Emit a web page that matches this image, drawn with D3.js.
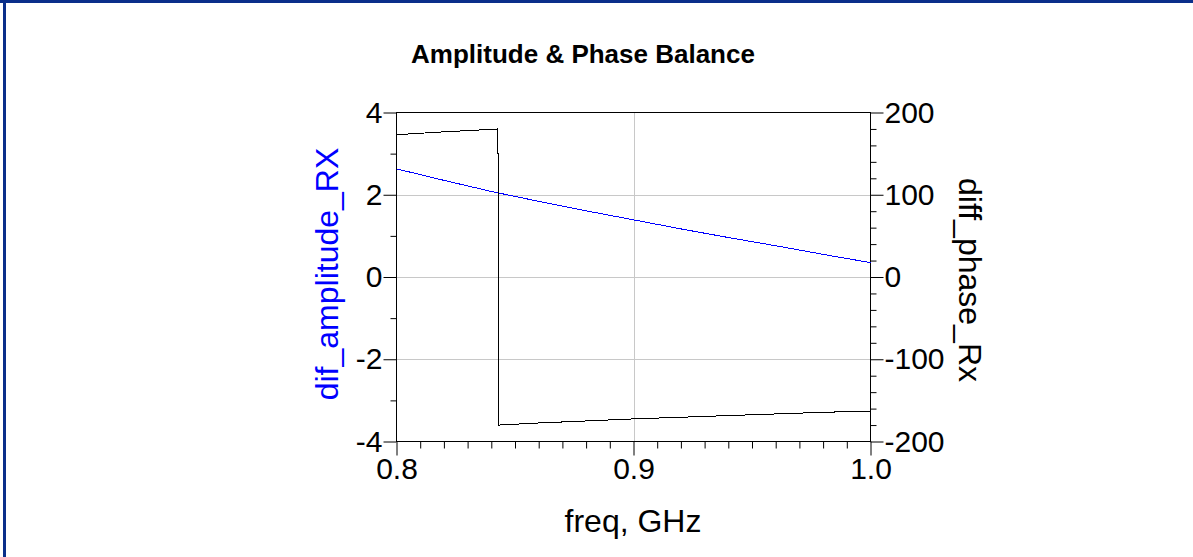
<!DOCTYPE html>
<html>
<head>
<meta charset="utf-8">
<script src="https://cdn.jsdelivr.net/npm/d3@7"></script>
<style>
  body { margin: 0; background: #fff; }
  text { font-family: "Liberation Sans", Arial, sans-serif; }
</style>
</head>
<body>
<script>
// frequency points (GHz)
const freq = [0.80, 0.82, 0.84, 0.86, 0.88, 0.90, 0.92, 0.94, 0.96, 0.98, 1.00];
// dif_amplitude_RX (dB)
const amplitude = [2.63, 2.35, 2.08, 1.84, 1.61, 1.39, 1.17, 0.96, 0.76, 0.55, 0.35];
// diff_phase_Rx (deg), wraps at +180 -> -180
const phaseFreq = [0.80, 0.82, 0.84, 0.8428, 0.8432, 0.86, 0.88, 0.90, 0.92, 0.94, 0.96, 0.98, 1.00];
const phase = [173, 176.5, 179.5, 180, -180, -177.5, -175, -172.5, -170.5, -168.5, -166.5, -164.5, -163];

const xMajor = [0.8, 0.9, 1.0];
const ampMajor = [-4, -2, 0, 2, 4];
const phaseMajor = [-200, -100, 0, 100, 200];

const width = 1193;
const height = 557;
const plot = { left: 396.5, right: 870.5, top: 112.5, bottom: 441.5 };

const svg = d3.select("body").append("svg")
    .attr("width", width)
    .attr("height", height);

// page frame
svg.append("rect").attr("x", 0).attr("y", 0).attr("width", width).attr("height", 3).attr("fill", "#0a2f8a");
svg.append("rect").attr("x", 3).attr("y", 0).attr("width", 3).attr("height", height).attr("fill", "#0a2f8a");

const x = d3.scaleLinear().domain([0.8, 1.0]).range([plot.left, plot.right]);
const yAmp = d3.scaleLinear().domain([-4, 4]).range([plot.bottom, plot.top]);
const yPh = d3.scaleLinear().domain([-200, 200]).range([plot.bottom, plot.top]);

// grid
const grid = svg.append("g").attr("stroke", "#c8c8c8").attr("stroke-width", 1);
grid.selectAll(".gy")
    .data([-2, 0, 2])
    .enter()
    .append("line")
    .attr("x1", plot.left).attr("x2", plot.right)
    .attr("y1", d => Math.round(yAmp(d)) + 0.5).attr("y2", d => Math.round(yAmp(d)) + 0.5);
grid.append("line")
    .attr("x1", Math.round(x(0.9)) + 0.5).attr("x2", Math.round(x(0.9)) + 0.5)
    .attr("y1", plot.top).attr("y2", plot.bottom);

function styleAxis(g, size) {
    g.select(".domain").remove();
    g.selectAll("line").attr("stroke", "#000");
    g.selectAll("text")
        .attr("font-size", size)
        .attr("fill", "#000")
        .style("font-family", "'Liberation Sans', Arial, sans-serif");
}

const fmtInt = d => String(d);

// left axis
svg.append("g")
    .attr("transform", `translate(${plot.left},0)`)
    .call(d3.axisLeft(yAmp).tickValues([-3, -1, 1, 3]).tickSize(6).tickFormat(""))
    .call(g => styleAxis(g, 30));
svg.append("g")
    .attr("transform", `translate(${plot.left},0)`)
    .call(d3.axisLeft(yAmp).tickValues(ampMajor).tickSize(13).tickPadding(1).tickFormat(fmtInt))
    .call(g => styleAxis(g, 30));

// right axis
svg.append("g")
    .attr("transform", `translate(${plot.right},0)`)
    .call(d3.axisRight(yPh).tickValues(d3.range(-180, 200, 20).filter(v => v % 100 !== 0)).tickSize(6).tickFormat(""))
    .call(g => styleAxis(g, 30));
svg.append("g")
    .attr("transform", `translate(${plot.right},0)`)
    .call(d3.axisRight(yPh).tickValues(phaseMajor).tickSize(13).tickPadding(1).tickFormat(fmtInt))
    .call(g => styleAxis(g, 30));

// bottom axis
svg.append("g")
    .attr("transform", `translate(0,${plot.bottom})`)
    .call(d3.axisBottom(x).tickValues(d3.range(1, 20).map(i => 0.8 + i * 0.01).filter(v => Math.abs(v - 0.9) > 1e-6)).tickSize(7).tickFormat(""))
    .call(g => styleAxis(g, 30));
svg.append("g")
    .attr("transform", `translate(0,${plot.bottom})`)
    .call(d3.axisBottom(x).tickValues(xMajor).tickSize(14).tickPadding(2).tickFormat(d3.format(".1f")))
    .call(g => styleAxis(g, 30));

// plot frame
svg.append("rect")
    .attr("x", plot.left).attr("y", plot.top)
    .attr("width", plot.right - plot.left).attr("height", plot.bottom - plot.top)
    .attr("fill", "none").attr("stroke", "#000").attr("stroke-width", 1);

// data lines
svg.append("path")
    .datum(d3.zip(freq, amplitude))
    .attr("fill", "none")
    .attr("stroke", "#0000ff")
    .attr("stroke-width", 1)
    .attr("shape-rendering", "crispEdges")
    .attr("d", d3.line().x(d => x(d[0])).y(d => yAmp(d[1])));

svg.append("path")
    .datum(d3.zip(phaseFreq, phase))
    .attr("fill", "none")
    .attr("stroke", "#000")
    .attr("stroke-width", 1)
    .attr("shape-rendering", "crispEdges")
    .attr("d", d3.line().x(d => x(d[0])).y(d => yPh(d[1])));

// titles
svg.append("text")
    .attr("x", 583).attr("y", 63)
    .attr("text-anchor", "middle")
    .attr("font-size", 26)
    .attr("font-weight", "bold")
    .text("Amplitude & Phase Balance");

svg.append("text")
    .attr("x", 633).attr("y", 532)
    .attr("text-anchor", "middle")
    .attr("font-size", 32)
    .text("freq, GHz");

svg.append("text")
    .attr("transform", "translate(338,274) rotate(-90)")
    .attr("text-anchor", "middle")
    .attr("font-size", 32)
    .attr("fill", "#0000ff")
    .text("dif_amplitude_RX");

svg.append("text")
    .attr("transform", "translate(959,280) rotate(90)")
    .attr("text-anchor", "middle")
    .attr("font-size", 32)
    .text("diff_phase_Rx");
</script>
</body>
</html>
